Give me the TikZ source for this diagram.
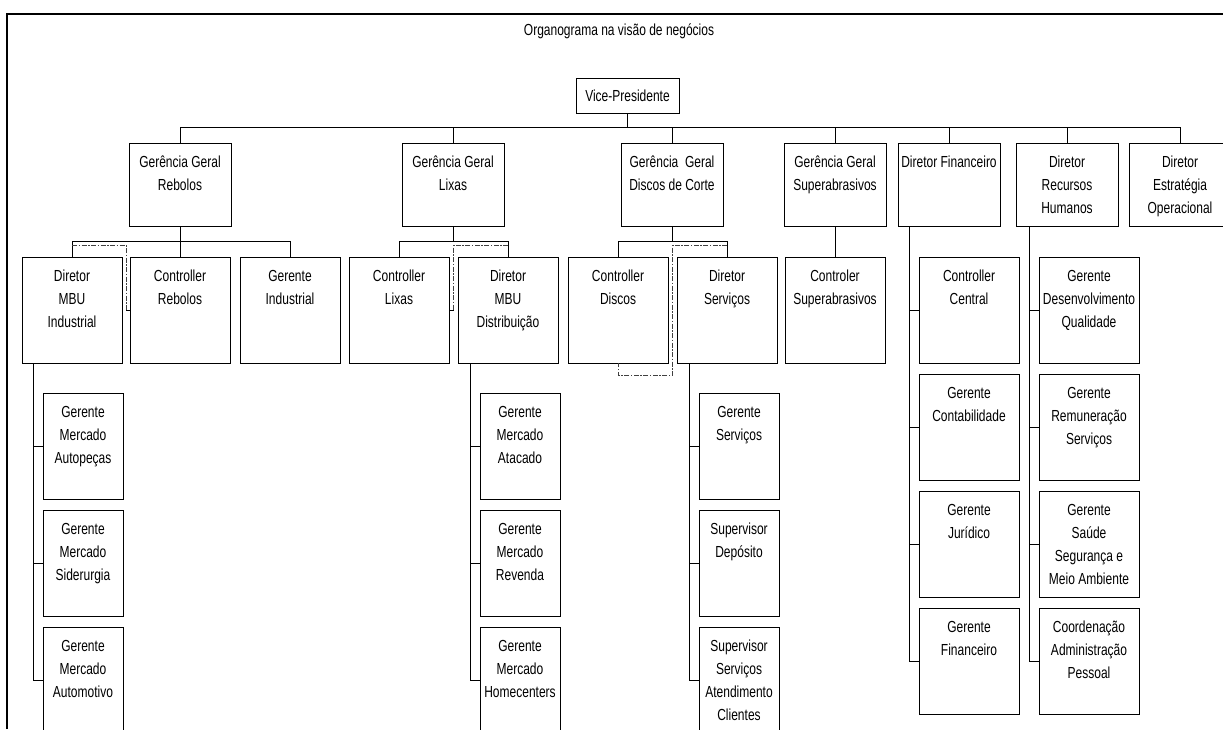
\documentclass[tikz,border=0pt]{standalone}
\usepackage{fontspec}
\setmainfont{Liberation Sans}[FakeStretch=0.75]
\usetikzlibrary{calc}
% box with top-aligned, centred lines: width, height, text
\newcommand{\boxtxt}[3]{\parbox[t][#2pt][t]{#1pt}{\centering\rule{0pt}{24pt}#3}}
\begin{document}
\begin{tikzpicture}[x=1pt,y=-1pt,
  every node/.append style={font=\fontsize{16}{23}\selectfont},
  bx/.style={draw=black, line width=1pt, inner sep=0pt, outer sep=0pt, anchor=north west},
  vpbox/.style={draw=black, line width=1pt, inner sep=0pt, outer sep=0pt, anchor=north west,
                minimum width=103pt, minimum height=35pt},
  link/.style={draw=black, line width=1pt},
  dotlink/.style={draw=black!75, line width=1pt, dash pattern=on 5pt off 1.5pt on 1.5pt off 1.5pt},
  frameline/.style={line width=2pt}]
\useasboundingbox (0,0) rectangle (1223,729);
\clip (0,0) rectangle (1223,729);

% outer frame
\draw[frameline] (7,729) -- (7,14) -- (1223,14);

\node (title) at (619,31) {Organograma na visão de negócios};

% top
\node[vpbox] (VP) at (576,78) {Vice-Presidente};

% first level
\node[bx] (GGR) at (129,143)  {\boxtxt{102}{83}{Gerência Geral\\Rebolos}};
\node[bx] (GGL) at (402,143)  {\boxtxt{102}{83}{Gerência Geral\\Lixas}};
\node[bx] (GGD) at (621,143)  {\boxtxt{102}{83}{Gerência\ \ Geral\\Discos de Corte}};
\node[bx] (GGS) at (784,143)  {\boxtxt{102}{83}{Gerência Geral\\Superabrasivos}};
\node[bx] (DF)  at (898,143)  {\boxtxt{102}{83}{Diretor Financeiro}};
\node[bx] (DRH) at (1016,143) {\boxtxt{102}{83}{Diretor\\Recursos\\Humanos}};
\node[bx] (DEO) at (1129,143) {\boxtxt{102}{83}{Diretor\\Estratégia\\Operacional}};

% second level
\node[bx] (DMI) at (22,257)  {\boxtxt{100}{106}{Diretor\\MBU\\Industrial}};
\node[bx] (CR)  at (130,257) {\boxtxt{100}{106}{Controller\\Rebolos}};
\node[bx] (GI)  at (240,257) {\boxtxt{100}{106}{Gerente\\Industrial}};
\node[bx] (CL)  at (349,257) {\boxtxt{100}{106}{Controller\\Lixas}};
\node[bx] (DMD) at (458,257) {\boxtxt{100}{106}{Diretor\\MBU\\Distribuição}};
\node[bx] (CD)  at (568,257) {\boxtxt{100}{106}{Controller\\Discos}};
\node[bx] (DS)  at (677,257) {\boxtxt{100}{106}{Diretor\\Serviços}};
\node[bx] (CS)  at (785,257) {\boxtxt{100}{106}{Controler\\Superabrasivos}};

% finance stack
\node[bx] (CC) at (919,257) {\boxtxt{100}{106}{Controller\\Central}};
\node[bx] (GC) at (919,374) {\boxtxt{100}{106}{Gerente\\Contabilidade}};
\node[bx] (GJ) at (919,491) {\boxtxt{100}{106}{Gerente\\Jurídico}};
\node[bx] (GF) at (919,608) {\boxtxt{100}{106}{Gerente\\Financeiro}};

% human resources stack
\node[bx] (GDQ) at (1039,257) {\boxtxt{100}{106}{Gerente\\Desenvolvimento\\Qualidade}};
\node[bx] (GRS) at (1039,374) {\boxtxt{100}{106}{Gerente\\Remuneração\\Serviços}};
\node[bx] (GSS) at (1039,491) {\boxtxt{100}{106}{Gerente\\Saúde\\Segurança e\\Meio Ambiente}};
\node[bx] (CAP) at (1039,608) {\boxtxt{100}{106}{Coordenação\\Administração\\Pessoal}};

% third level
\node[bx] (GMA)  at (43,393) {\boxtxt{80}{106}{Gerente\\Mercado\\Autopeças}};
\node[bx] (GMS)  at (43,510) {\boxtxt{80}{106}{Gerente\\Mercado\\Siderurgia}};
\node[bx] (GMAu) at (43,627) {\boxtxt{80}{106}{Gerente\\Mercado\\Automotivo}};
\node[bx] (GMAt) at (480,393) {\boxtxt{80}{106}{Gerente\\Mercado\\Atacado}};
\node[bx] (GMR)  at (480,510) {\boxtxt{80}{106}{Gerente\\Mercado\\Revenda}};
\node[bx] (GMH)  at (480,627) {\boxtxt{80}{106}{Gerente\\Mercado\\Homecenters}};
\node[bx] (GSv)  at (699,393) {\boxtxt{80}{106}{Gerente\\Serviços}};
\node[bx] (SD)   at (699,510) {\boxtxt{80}{106}{Supervisor\\Depósito}};
\node[bx] (SSAC) at (699,627) {\boxtxt{80}{106}{Supervisor\\Serviços\\Atendimento\\Clientes}};

% main bus
\coordinate (vpbus) at ($(VP.south)+(0,14)$);
\draw[link] (VP.south) -- (vpbus);
\foreach \n in {GGR,GGL,GGD,GGS,DF,DRH,DEO} \draw[link] (vpbus) -| (\n.north);

% second-level buses
\coordinate (rb) at ($(GGR.south)+(0,15)$);
\draw[link] (GGR.south) -- (rb);
\foreach \n in {DMI,CR,GI} \draw[link] (rb) -| (\n.north);
\coordinate (lb) at ($(GGL.south)+(0,15)$);
\draw[link] (GGL.south) -- (lb);
\foreach \n in {CL,DMD} \draw[link] (lb) -| (\n.north);
\coordinate (db) at ($(GGD.south)+(0,15)$);
\draw[link] (GGD.south) -- (db);
\foreach \n in {CD,DS} \draw[link] (db) -| (\n.north);
\draw[link] (GGS.south) -- (CS.north);

% side spines
\path (CC.west) ++(-10,0) coordinate (ccw);
\coordinate (dfs) at (ccw |- DF.south);
\foreach \n in {CC,GC,GJ,GF} \draw[link] (dfs) |- (\n.west);
\path (GDQ.west) ++(-10,0) coordinate (gdqw);
\coordinate (drhs) at (gdqw |- DRH.south);
\foreach \n in {GDQ,GRS,GSS,CAP} \draw[link] (drhs) |- (\n.west);
\path (GMA.west) ++(-10,0) coordinate (gmaw);
\coordinate (dmis) at (gmaw |- DMI.south);
\foreach \n in {GMA,GMS,GMAu} \draw[link] (dmis) |- (\n.west);
\path (GMAt.west) ++(-10,0) coordinate (gmatw);
\coordinate (dmds) at (gmatw |- DMD.south);
\foreach \n in {GMAt,GMR,GMH} \draw[link] (dmds) |- (\n.west);
\path (GSv.west) ++(-10,0) coordinate (gsvw);
\coordinate (dss) at (gsvw |- DS.south);
\foreach \n in {GSv,SD,SSAC} \draw[link] (dss) |- (\n.west);

% dotted-line reporting
\coordinate (r1) at ($(DMI.north)+(0,-12)$);
\coordinate (rgap) at ($(DMI.north east)!0.5!(CR.north west)+(0,-12)$);
\draw[dotlink] (r1) -- (rgap) -- (rgap |- CR.west);
\draw[link] (rgap |- CR.west) -- (CR.west);

\coordinate (l1) at ($(DMD.north)+(0,-12)$);
\coordinate (lgap) at ($(CL.north east)!0.5!(DMD.north west)+(0,-12)$);
\draw[dotlink] (l1) -- (lgap) -- (lgap |- CL.east);
\draw[link] (lgap |- CL.east) -- (CL.east);

\coordinate (d1) at ($(DS.north)+(0,-12)$);
\coordinate (dgap) at ($(CD.north east)!0.5!(DS.north west)+(0,-12)$);
\coordinate (dlow) at ($(dgap |- CD.south)+(0,12)$);
\draw[dotlink] (d1) -- (dgap) -- (dlow) -| (CD.south);
\end{tikzpicture}
\end{document}
